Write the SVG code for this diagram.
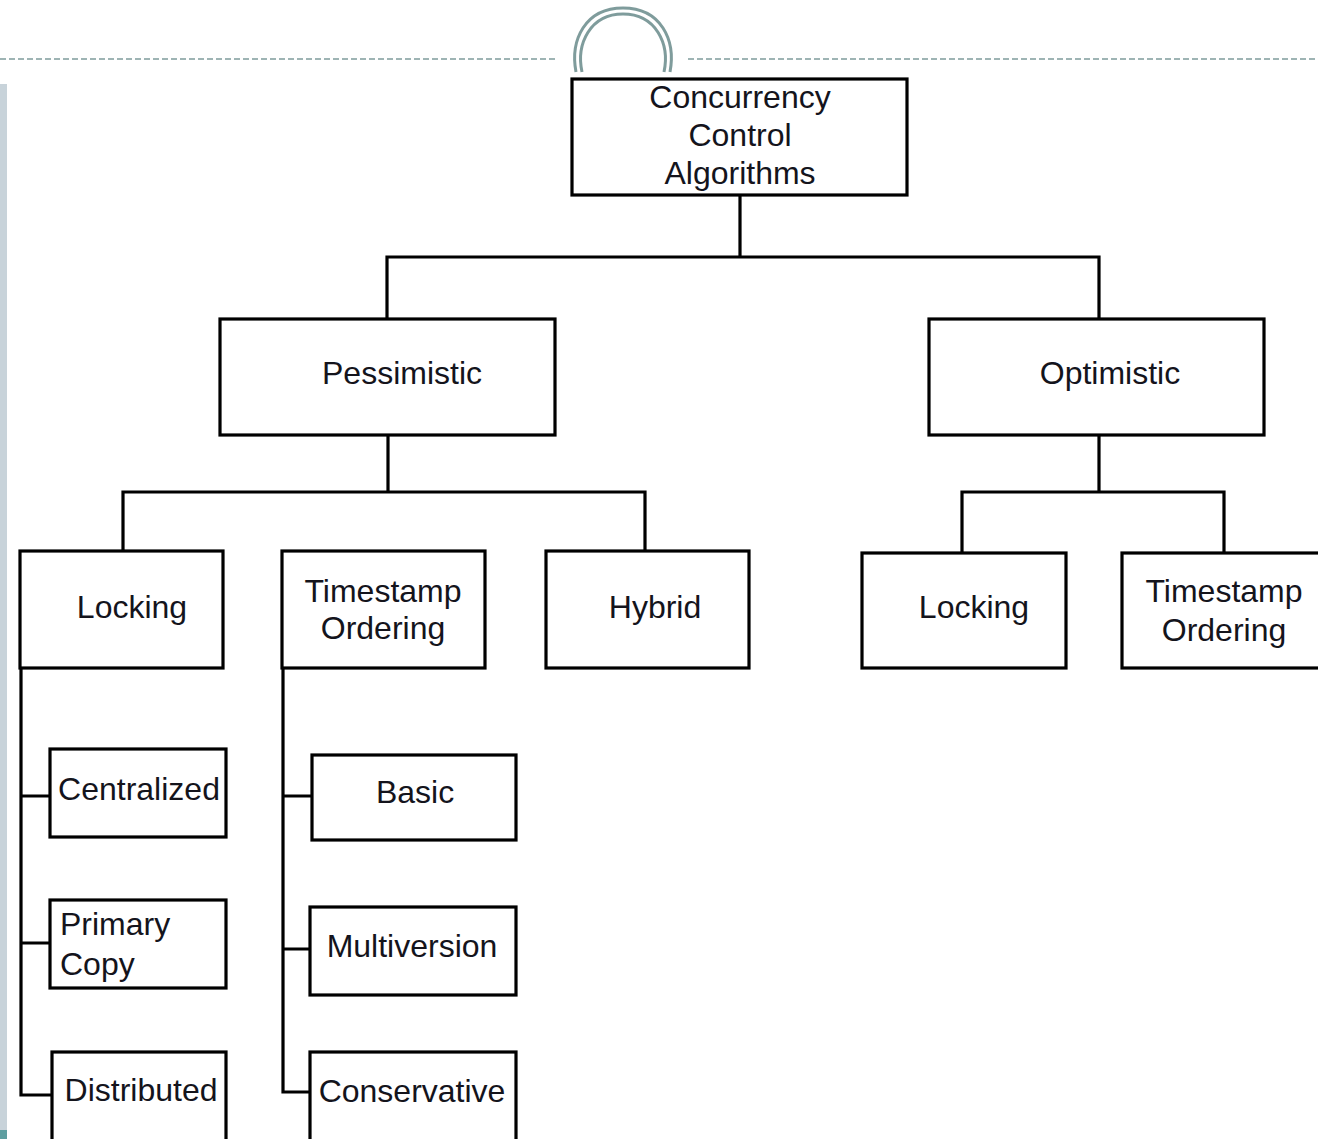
<svg xmlns="http://www.w3.org/2000/svg" width="1318" height="1139" viewBox="0 0 1318 1139">
  <style>
    .box { fill: #ffffff; stroke: #000000; stroke-width: 3.2; }
    .wire { fill: none; stroke: #000000; stroke-width: 3.2; stroke-linejoin: miter; }
    .lbl { font-family: "Liberation Sans", Arial, sans-serif; font-size: 32px; fill: #14141c; }
    .mid { text-anchor: middle; }
    .deco { fill: none; stroke: #7f9c9c; }
  </style>

  <rect x="0" y="0" width="1318" height="1139" fill="#ffffff"/>

  <!-- slide decoration: side bar, dashed rule and ring -->
  <g id="decoration">
    <rect x="0" y="84" width="7" height="1055" fill="#c8d3da"/>
    <rect x="0" y="1130" width="7" height="9" fill="#5e9ea0"/>
    <line class="deco" x1="0" y1="59" x2="558" y2="59" stroke-width="1.5" stroke-dasharray="6 3"/>
    <line class="deco" x1="688" y1="59" x2="1318" y2="59" stroke-width="1.5" stroke-dasharray="6 3"/>
    <path class="deco" stroke-width="3" d="M 576 72 C 570 40 585 8 623 8 C 661 8 676 40 670 72"/>
    <path class="deco" stroke-width="3" d="M 582 72 C 576 44 590 14 623 14 C 656 14 670 44 664 72"/>
  </g>

  <!-- tree connectors -->
  <g id="connectors">
    <path class="wire" d="M 740 195 V 257 M 387 319 V 257 H 1099 V 319"/>
    <path class="wire" d="M 388 435 V 492 M 123 551 V 492 H 645 V 551"/>
    <path class="wire" d="M 1099 435 V 492 M 962 553 V 492 H 1224 V 553"/>
    <path class="wire" d="M 21 668 V 1095 H 52 M 21 796 H 50 M 21 943 H 50"/>
    <path class="wire" d="M 283 668 V 1092 H 310 M 283 796 H 312 M 283 949 H 310"/>
  </g>

  <g id="root">
    <rect class="box" x="572" y="79" width="335" height="116"/>
    <text class="lbl mid" x="740" y="108">Concurrency</text>
    <text class="lbl mid" x="740" y="146">Control</text>
    <text class="lbl mid" x="740" y="184">Algorithms</text>
  </g>

  <g id="pessimistic">
    <rect class="box" x="220" y="319" width="335" height="116"/>
    <text class="lbl mid" x="402" y="384">Pessimistic</text>
  </g>

  <g id="optimistic">
    <rect class="box" x="929" y="319" width="335" height="116"/>
    <text class="lbl mid" x="1110" y="384">Optimistic</text>
  </g>

  <g id="p-locking">
    <rect class="box" x="20" y="551" width="203" height="117"/>
    <text class="lbl mid" x="132" y="618">Locking</text>
  </g>

  <g id="p-timestamp">
    <rect class="box" x="282" y="551" width="203" height="117"/>
    <text class="lbl mid" x="383" y="602">Timestamp</text>
    <text class="lbl mid" x="383" y="639">Ordering</text>
  </g>

  <g id="hybrid">
    <rect class="box" x="546" y="551" width="203" height="117"/>
    <text class="lbl mid" x="655" y="618">Hybrid</text>
  </g>

  <g id="o-locking">
    <rect class="box" x="862" y="553" width="204" height="115"/>
    <text class="lbl mid" x="974" y="618">Locking</text>
  </g>

  <g id="o-timestamp">
    <rect class="box" x="1122" y="553" width="205" height="115"/>
    <text class="lbl mid" x="1224" y="602">Timestamp</text>
    <text class="lbl mid" x="1224" y="641">Ordering</text>
  </g>

  <g id="centralized">
    <rect class="box" x="50" y="749" width="176" height="88"/>
    <text class="lbl mid" x="139" y="800">Centralized</text>
  </g>

  <g id="primary-copy">
    <rect class="box" x="50" y="900" width="176" height="88"/>
    <text class="lbl" x="60" y="935">Primary</text>
    <text class="lbl" x="60" y="975">Copy</text>
  </g>

  <g id="distributed">
    <rect class="box" x="52" y="1052" width="174" height="92"/>
    <text class="lbl mid" x="141" y="1101">Distributed</text>
  </g>

  <g id="basic">
    <rect class="box" x="312" y="755" width="204" height="85"/>
    <text class="lbl mid" x="415" y="803">Basic</text>
  </g>

  <g id="multiversion">
    <rect class="box" x="310" y="907" width="206" height="88"/>
    <text class="lbl mid" x="412" y="957">Multiversion</text>
  </g>

  <g id="conservative">
    <rect class="box" x="310" y="1052" width="206" height="92"/>
    <text class="lbl mid" x="412" y="1102">Conservative</text>
  </g>
</svg>
